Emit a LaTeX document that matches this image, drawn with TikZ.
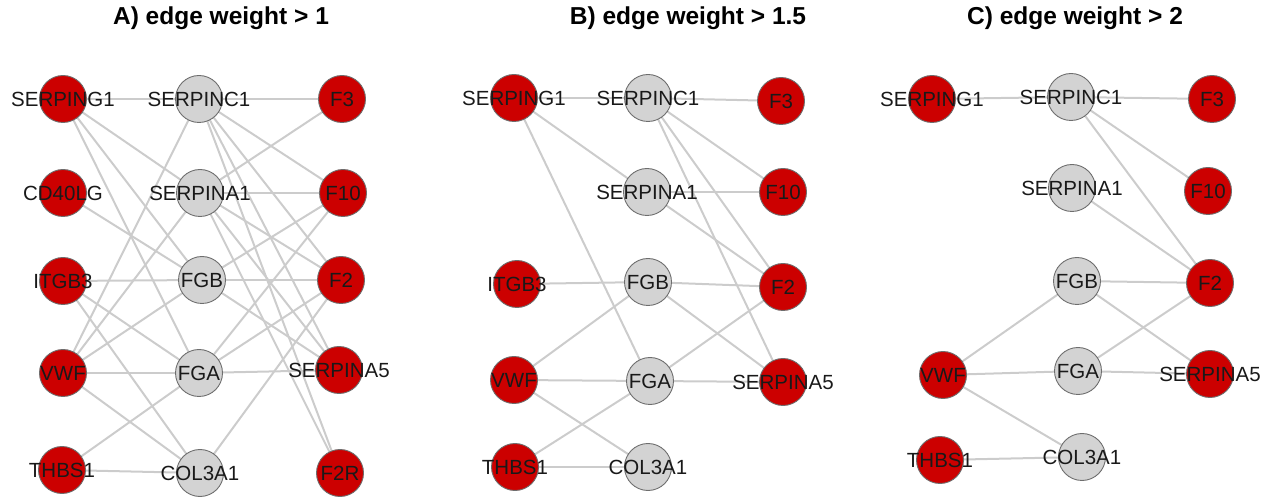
\documentclass[tikz,border=0pt]{standalone}
\usepackage{fontspec}
\setmainfont{Liberation Sans}
\usetikzlibrary{backgrounds}
\definecolor{nodered}{RGB}{204,0,0}
\definecolor{nodegray}{RGB}{211,211,211}
\definecolor{nodeborder}{RGB}{110,110,110}
\definecolor{edgegray}{RGB}{204,204,204}
\definecolor{labeltext}{RGB}{25,25,25}
\tikzset{
  base/.style={circle, draw=nodeborder, line width=0.9pt, minimum size=47pt, inner sep=0pt},
  rednode/.style={base, fill=nodered},
  graynode/.style={base, fill=nodegray},
  lbl/.style={font=\fontsize{20.5}{23}\selectfont, text=labeltext, inner sep=0pt},
  edge/.style={draw=edgegray, line width=2pt},
  ttl/.style={font=\bfseries\fontsize{24.5}{28}\selectfont, text=black}
}
\newcommand{\gnode}[5]{\node[#1] (#2) at (#3,#4) {}; \node[lbl] (#2l) at (#2.center) {#5};}
\begin{document}
\begin{tikzpicture}[x=1pt,y=-1pt]
\useasboundingbox (0,0) rectangle (1283,502);
\node[ttl] (tA) at (221,18) {A) edge weight > 1};
\node[ttl] (tB) at (688,18) {B) edge weight > 1.5};
\node[ttl] (tC) at (1075,18) {C) edge weight > 2};
% ---------- Panel A ----------
\gnode{rednode}{aSG}{63}{99}{SERPING1}
\gnode{rednode}{aCD}{63}{193}{CD40LG}
\gnode{rednode}{aIT}{63}{281}{ITGB3}
\gnode{rednode}{aVW}{63}{373}{VWF}
\gnode{rednode}{aTH}{62}{470}{THBS1}
\gnode{graynode}{aSC}{199}{99}{SERPINC1}
\gnode{graynode}{aSA}{200}{193}{SERPINA1}
\gnode{graynode}{aFB}{202}{280}{FGB}
\gnode{graynode}{aFA}{199}{373}{FGA}
\gnode{graynode}{aCO}{200}{473}{COL3A1}
\gnode{rednode}{aF3}{342}{99}{F3}
\gnode{rednode}{aF10}{343}{193}{F10}
\gnode{rednode}{aF2}{341}{280}{F2}
\gnode{rednode}{aS5}{339}{370}{SERPINA5}
\gnode{rednode}{aF2R}{340}{473}{F2R}
% ---------- Panel B ----------
\gnode{rednode}{bSG}{514}{98}{SERPING1}
\gnode{rednode}{bIT}{517}{284}{ITGB3}
\gnode{rednode}{bVW}{514}{380}{VWF}
\gnode{rednode}{bTH}{515}{467}{THBS1}
\gnode{graynode}{bSC}{648}{98}{SERPINC1}
\gnode{graynode}{bSA}{647}{192}{SERPINA1}
\gnode{graynode}{bFB}{648}{282}{FGB}
\gnode{graynode}{bFA}{650}{381}{FGA}
\gnode{graynode}{bCO}{648}{467}{COL3A1}
\gnode{rednode}{bF3}{781}{101}{F3}
\gnode{rednode}{bF10}{783}{192}{F10}
\gnode{rednode}{bF2}{783}{287}{F2}
\gnode{rednode}{bS5}{783}{382}{SERPINA5}
% ---------- Panel C ----------
\gnode{rednode}{cSG}{932}{99}{SERPING1}
\gnode{rednode}{cVW}{943}{375}{VWF}
\gnode{rednode}{cTH}{940}{460}{THBS1}
\gnode{graynode}{cSC}{1071}{97}{SERPINC1}
\gnode{graynode}{cSA}{1072}{188}{SERPINA1}
\gnode{graynode}{cFB}{1077}{281}{FGB}
\gnode{graynode}{cFA}{1078}{371}{FGA}
\gnode{graynode}{cCO}{1082}{457}{COL3A1}
\gnode{rednode}{cF3}{1212}{99}{F3}
\gnode{rednode}{cF10}{1208}{191}{F10}
\gnode{rednode}{cF2}{1210}{283}{F2}
\gnode{rednode}{cS5}{1210}{374}{SERPINA5}
\begin{scope}[on background layer]
% Panel A edges
\foreach \s/\t in {aSG/aSC, aSG/aSA, aSG/aFB, aSG/aFA, aCD/aFB,
  aIT/aFB, aIT/aFA, aIT/aCO,
  aVW/aSC, aVW/aSA, aVW/aFB, aVW/aFA, aVW/aCO,
  aTH/aFA, aTH/aCO,
  aSC/aF3, aSC/aF10, aSC/aF2, aSC/aS5, aSC/aF2R,
  aSA/aF3, aSA/aF10, aSA/aF2, aSA/aS5, aSA/aF2R,
  aFB/aF10, aFB/aF2, aFB/aS5,
  aFA/aF10, aFA/aF2, aFA/aS5,
  aCO/aF2}
  {\draw[edge] (\s.center) -- (\t.center);}
% Panel B edges
\foreach \s/\t in {bSG/bSC, bSG/bSA, bSG/bFA,
  bSC/bF3, bSC/bF10, bSC/bF2, bSC/bS5,
  bSA/bF10, bSA/bF2,
  bIT/bFB, bFB/bF2, bFB/bS5,
  bVW/bFB, bVW/bFA, bVW/bCO,
  bFA/bF2, bFA/bS5,
  bTH/bFA, bTH/bCO}
  {\draw[edge] (\s.center) -- (\t.center);}
% Panel C edges
\foreach \s/\t in {cSG/cSC, cSC/cF3, cSC/cF10, cSC/cF2,
  cSA/cF2, cFB/cF2, cFB/cS5,
  cVW/cFB, cVW/cFA, cVW/cCO,
  cFA/cF2, cFA/cS5, cTH/cCO}
  {\draw[edge] (\s.center) -- (\t.center);}
\end{scope}
\end{tikzpicture}
\end{document}
